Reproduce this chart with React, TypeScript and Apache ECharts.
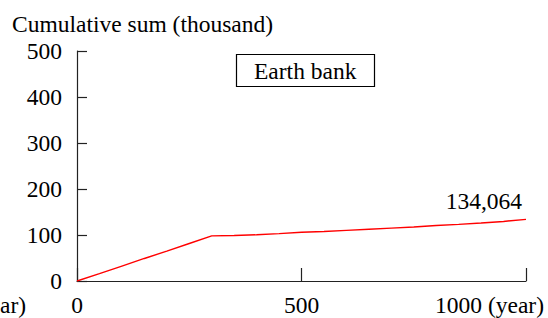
import React, { useEffect, useRef } from "react";
import * as echarts from "echarts";

const years = [0, 50, 100, 150, 200, 250, 300, 350, 400, 450, 500, 550, 600, 650, 700, 750, 800, 850, 900, 950, 1000];
const sums = [0, 16, 32.5, 49, 65, 81.5, 98, 99, 100.5, 103, 106, 107.5, 110, 112.5, 115, 117.5, 120.5, 123, 126, 129.5, 134.064];
const yTicks = [0, 100, 200, 300, 400, 500];
const xTicks = [0, 500, 1000];
const finalValue = 134064;
const titleText = "Cumulative sum (thousand)";
const legendText = "Earth bank";
const xUnit = "(year)";
const clippedUnit = "ar)";

const FONT = "'Liberation Serif', 'Times New Roman', serif";
const FS = 23.5;

const ts = { fontFamily: FONT, fontSize: FS, fontWeight: "normal" as const, color: "#000" };

export default function App() {
  const ref = useRef<HTMLDivElement>(null);
  useEffect(() => {
    if (!ref.current) return;
    const chart = echarts.init(ref.current, null, { renderer: "svg" });
    const data = years.map((y, i) => [y, sums[i]]);
    chart.setOption({
      animation: false,
      backgroundColor: "#ffffff",
      textStyle: { fontFamily: FONT },
      title: [
        { text: titleText, left: 12, top: 12, padding: 0, textStyle: ts },
        {
          text: legendText,
          left: 236,
          top: 54,
          padding: [5, 18, 4, 18],
          borderWidth: 1.2,
          borderColor: "#000",
          backgroundColor: "#fff",
          textStyle: ts,
        },
        { text: finalValue.toLocaleString("en-US"), right: 26, top: 189, padding: 0, textStyle: ts },
        { text: `${xTicks[2]} ${xUnit}`, right: 4, top: 293, padding: 0, textStyle: ts },
        { text: clippedUnit, left: 0, top: 293, padding: 0, textStyle: ts },
      ],
      grid: { left: 77, right: 22, top: 51, bottom: 37 },
      xAxis: {
        type: "value",
        min: xTicks[0],
        max: xTicks[xTicks.length - 1],
        interval: 500,
        axisLine: { show: true, lineStyle: { color: "#222", width: 1.2 } },
        axisTick: { show: true, inside: true, length: 13, lineStyle: { color: "#222", width: 1.2 } },
        splitLine: { show: false },
        axisLabel: {
          margin: 12,
          fontFamily: FONT,
          fontSize: FS,
          color: "#000",
          formatter: (v: number) => (v === 1000 ? "" : String(v)),
        },
      },
      yAxis: {
        type: "value",
        min: yTicks[0],
        max: yTicks[yTicks.length - 1],
        interval: 100,
        axisLine: { show: true, lineStyle: { color: "#222", width: 1.2 } },
        axisTick: { show: true, inside: true, length: 10, lineStyle: { color: "#222", width: 1.2 } },
        splitLine: { show: false },
        axisLabel: { margin: 15, fontFamily: FONT, fontSize: FS, color: "#000" },
      },
      series: [
        {
          type: "line",
          data,
          showSymbol: false,
          symbol: "none",
          lineStyle: { color: "#ff0000", width: 1.4 },
        },
      ],
    });
    return () => chart.dispose();
  }, []);
  return <div ref={ref} style={{ position: "fixed", left: 0, top: 0, width: 548, height: 318 }} />;
}
